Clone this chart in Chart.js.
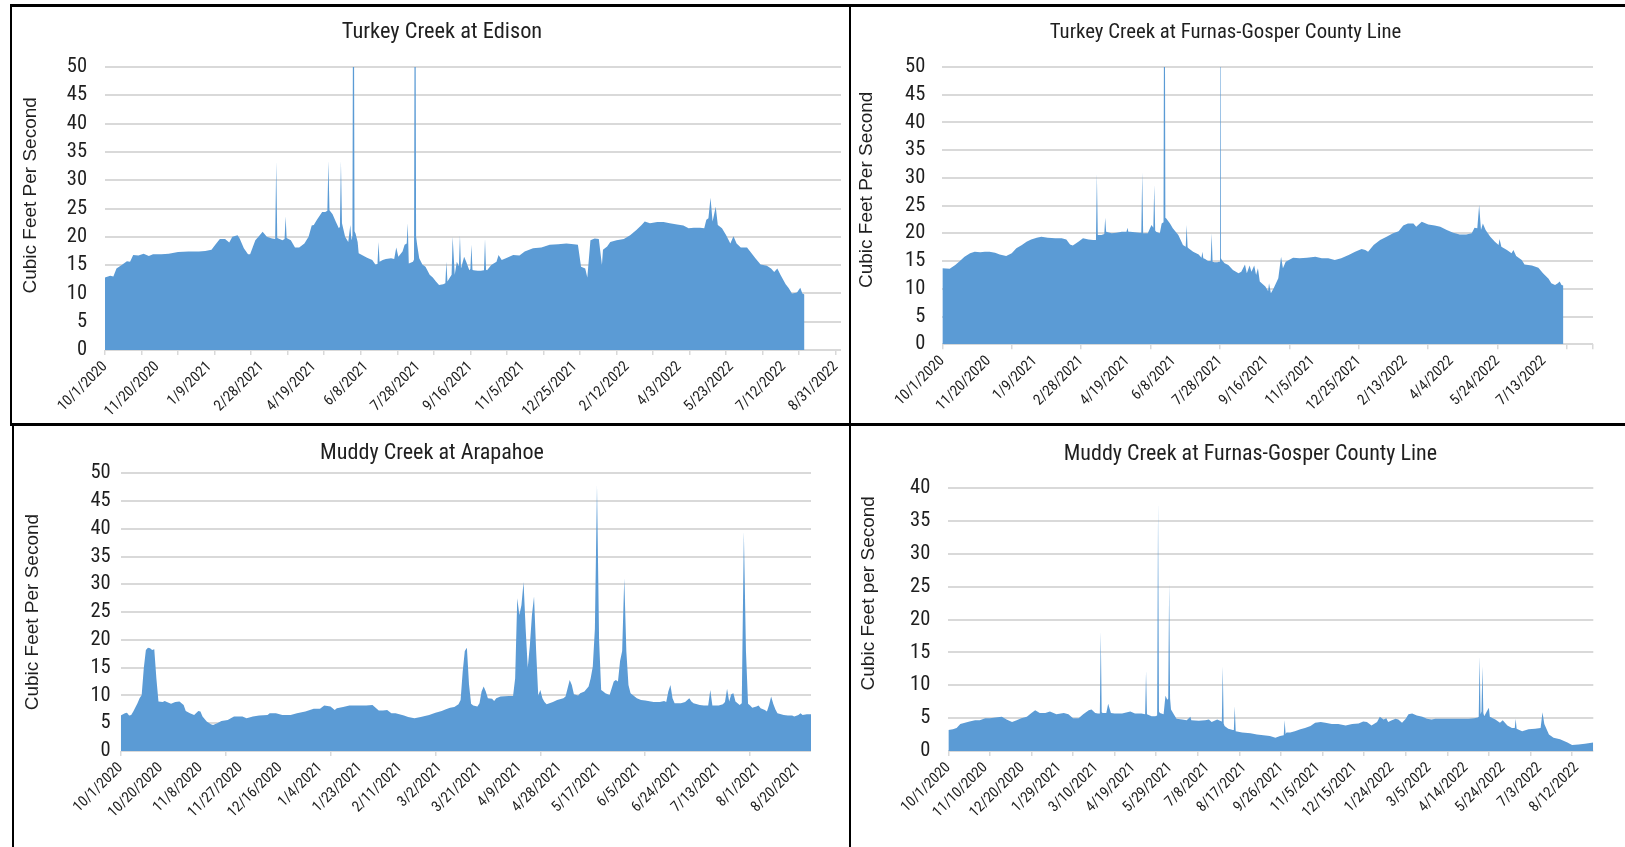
<!DOCTYPE html>
<html>
<head>
<meta charset="utf-8">
<script src="https://cdn.jsdelivr.net/npm/chart.js@4.4.1/dist/chart.umd.min.js"></script>
<style>
  html, body { margin: 0; padding: 0; background: #fff; }
  body { width: 1625px; height: 847px; position: relative; overflow: hidden; }
  canvas { position: absolute; }
  .rule { position: absolute; background: #000; z-index: 5; }
</style>
</head>
<body>
<canvas id="edison" width="840" height="419" style="left:22px;top:5px"></canvas>
<canvas id="turkeyLine" width="800" height="419" style="left:825px;top:5px"></canvas>
<canvas id="arapahoe" width="840" height="421" style="left:12px;top:426px"></canvas>
<canvas id="muddyLine" width="800" height="421" style="left:850px;top:426px"></canvas>

<div class="rule" style="left:10px;top:4px;width:1615px;height:3px"></div>
<div class="rule" style="left:10px;top:4px;width:2px;height:421px"></div>
<div class="rule" style="left:849px;top:4px;width:2px;height:843px"></div>
<div class="rule" style="left:10px;top:423px;width:1615px;height:3px"></div>
<div class="rule" style="left:12px;top:423px;width:2px;height:424px"></div>

<script>
// days counted from 10/1/2020, daily discharge in cubic feet per second
const edisonDays = [0,5,8,11,16,21,24,27,32,37,42,46,54,61,70,80,90,96,102,106,110,115,119,122,127,129,133,137,139,144,147,151,155,160,163,164,165,170,172,173,174,178,182,186,191,195,198,200,203,208,211,213,214,215,218,221,224,225,226,227,230,233,235,236,237,238,239,240,242,243,247,251,256,259,261,262,263,266,269,274,277,279,281,285,287,289,290,291,295,296,297,298,299,301,304,307,311,314,317,320,324,326,327,328,332,333,335,337,339,340,341,344,346,349,350,351,352,353,357,360,363,364,365,366,370,375,377,380,384,391,397,402,410,418,426,434,442,449,453,456,460,462,465,469,473,476,477,481,484,490,497,503,509,514,517,522,529,535,541,548,554,559,564,570,574,576,578,580,582,585,587,591,595,599,602,605,609,615,618,623,628,634,638,641,644,647,652,655,658,662,663,666,668,670];
const edisonFlow = [12.8,13.1,13.0,14.4,15.0,15.7,15.6,16.8,16.7,17.0,16.6,16.9,16.9,17.0,17.3,17.4,17.4,17.5,17.7,18.7,19.6,19.6,19.0,20.0,20.3,19.7,18.0,16.9,16.9,19.4,20.0,20.9,20.0,19.7,19.6,33.3,19.8,19.4,19.6,23.6,19.8,19.4,18.1,18.1,18.8,20.0,22.0,22.1,23.0,24.4,24.4,24.6,33.4,24.7,24.0,22.7,21.5,21.8,33.4,22.4,20.0,19.1,22.1,19.4,20.2,95,21.0,20.6,19.1,17.1,16.7,16.3,15.9,15.1,15.2,19.1,15.6,15.9,16.1,16.2,16.1,18.1,16.5,17.4,18.6,18.8,22.4,15.3,15.6,16.0,95,20.0,18.6,16.2,15.1,14.7,13.3,12.8,12.1,11.5,11.6,11.8,15.6,12.1,13.3,20.0,13.3,15.6,14.8,20.3,14.4,16.5,15.6,14.1,14.3,18.6,14.2,14.1,14.0,14.0,14.1,19.6,14.2,14.1,15.0,15.6,16.8,15.9,16.2,16.8,16.7,17.4,18.0,18.1,18.6,18.7,18.8,18.7,18.6,14.7,14.4,12.8,19.4,19.7,19.6,15.0,17.7,18.3,19.1,19.4,19.6,20.3,21.2,22.1,22.7,22.4,22.6,22.6,22.4,22.2,22.0,21.5,21.6,21.6,21.5,23.0,23.3,26.9,22.7,25.3,22.1,21.5,20.3,18.8,20.1,18.8,18.1,18.1,17.4,16.2,15.1,14.9,14.4,13.8,14.4,13.3,11.6,10.9,10.0,10.1,10.2,11.0,10.0,9.8];
const edisonLabels = ['10/1/2020','11/20/2020','1/9/2021','2/28/2021','4/19/2021','6/8/2021','7/28/2021','9/16/2021','11/5/2021','12/25/2021','2/12/2022','4/3/2022','5/23/2022','7/12/2022','8/31/2022'];

const turkeyLineDays = [0,8,14,19,24,30,35,41,46,51,57,62,69,75,80,86,91,96,102,107,114,122,129,134,138,141,147,152,158,163,166,167,168,172,175,176,177,183,188,194,199,200,201,203,208,213,215,216,217,222,226,228,229,230,231,235,237,239,240,241,242,246,249,255,260,263,264,265,266,271,277,280,281,282,284,287,290,291,292,294,297,299,300,301,302,305,309,314,320,323,327,329,332,334,337,339,341,343,349,352,353,355,358,363,366,368,371,379,386,394,403,410,417,424,431,439,446,453,457,460,466,473,480,487,493,498,503,509,512,518,525,532,538,545,552,559,566,572,575,578,580,582,584,587,592,597,601,602,604,610,615,617,620,626,629,637,644,649,655,658,662,665,667,669,671];
const turkeyLineFlow = [13.7,13.6,14.3,15.0,15.8,16.4,16.7,16.6,16.7,16.7,16.5,16.2,15.9,16.4,17.3,17.9,18.5,18.9,19.2,19.4,19.2,19.1,19.1,18.9,18.0,17.8,18.5,19.1,18.9,18.8,18.8,30.8,19.7,19.7,19.9,22.8,20.3,20.0,20.1,20.3,20.3,21.0,20.3,20.3,20.2,20.1,20.1,31.0,20.0,20.0,21.5,21.0,28.7,20.5,20.3,20.0,21.8,22.0,95,22.8,22.7,21.8,20.9,19.7,17.9,17.6,21.5,17.5,17.3,16.7,16.2,15.6,16.7,15.5,15.4,15.0,15.0,20.0,14.9,14.8,14.8,14.9,95,15.5,15.2,14.6,14.3,13.4,12.8,13.1,14.4,12.8,14.2,13.1,14.2,12.5,13.7,11.3,10.4,9.6,11.0,9.2,10.1,11.9,15.8,13.7,14.9,15.6,15.5,15.6,15.8,15.5,15.5,15.2,15.5,16.1,16.7,17.2,17.0,16.7,17.9,18.8,19.4,20.0,20.4,21.4,21.8,21.8,21.2,22.1,21.6,21.4,21.2,20.6,20.1,19.8,19.8,20.0,21.0,20.9,25.1,20.6,21.8,20.6,19.4,18.5,17.9,19.0,17.6,17.0,16.4,17.0,15.9,15.2,14.4,14.2,13.8,12.8,11.8,11.0,10.7,11.0,11.3,10.7,10.6];
const turkeyLineLabels = ['10/1/2020','11/20/2020','1/9/2021','2/28/2021','4/19/2021','6/8/2021','7/28/2021','9/16/2021','11/5/2021','12/25/2021','2/13/2022','4/4/2022','5/24/2022','7/13/2022'];

const arapahoeDays = [0,2,3,4,5,6,8,9,10,11,12,13,14,15,16,17,18,20,21,22,24,26,28,30,31,33,35,37,38,39,41,43,44,46,48,51,54,58,60,63,66,70,71,74,77,81,84,88,92,95,97,100,102,103,106,109,112,117,120,123,125,127,129,131,135,137,140,143,147,150,153,155,157,159,161,162,163,164,165,166,167,168,170,171,172,173,174,175,177,178,179,181,185,187,188,189,190,191,192,193,194,195,196,197,198,199,200,201,202,203,206,208,211,212,213,214,215,216,218,219,221,223,224,225,226,227,228,229,230,231,233,235,236,237,238,239,240,241,242,243,246,248,250,254,257,259,260,261,262,263,264,267,269,271,272,273,276,278,280,281,282,285,287,288,289,290,291,292,293,295,296,297,298,299,300,301,303,304,305,307,308,309,310,311,312,313,316,318,320,321,323,324,325,327,329];
const arapahoeFlow = [6.4,6.8,6.9,6.4,6.5,7.1,8.6,9.5,10.1,14.9,18.2,18.6,18.5,18.2,18.3,13.1,8.9,8.8,9.0,8.8,8.5,8.8,8.9,8.3,7.2,6.8,6.5,7.2,7.1,6.2,5.3,4.8,4.7,5.0,5.4,5.6,6.2,6.2,5.9,6.2,6.4,6.5,6.8,6.8,6.5,6.5,6.8,7.1,7.6,7.6,8.2,8.0,7.4,7.7,7.9,8.2,8.2,8.2,8.3,7.3,7.3,7.4,6.8,6.8,6.4,6.1,5.9,6.1,6.5,6.9,7.2,7.5,7.8,7.9,8.4,9.2,14.3,18.0,18.6,12.0,8.5,8.2,8.0,8.6,10.7,11.6,10.7,9.5,9.4,9.0,9.5,9.8,9.9,9.9,13.1,27.5,24.5,26.3,30.4,22.0,15.0,19.0,24.5,27.8,18.0,10.0,11.0,9.5,8.8,8.4,8.8,9.2,9.5,9.8,11.3,12.8,11.9,10.2,10.0,10.4,10.7,11.6,13.1,15.2,22.0,47.9,20.0,11.0,10.7,10.4,10.1,12.5,12.8,12.5,16.2,18.0,31.1,17.9,11.9,10.4,9.5,9.2,9.1,8.8,8.8,9.0,8.8,10.7,11.9,9.5,8.6,8.6,8.8,9.5,8.9,8.6,8.3,8.2,8.2,11.0,8.2,8.2,8.4,8.8,11.2,8.9,10.2,10.4,8.9,8.3,8.6,39.5,18.0,8.5,8.2,7.8,8.0,8.2,7.7,7.4,7.1,8.3,9.8,8.5,7.5,6.8,6.5,6.4,6.4,6.2,6.5,6.8,6.5,6.6,6.6];
const arapahoeLabels = ['10/1/2020','10/20/2020','11/8/2020','11/27/2020','12/16/2020','1/4/2021','1/23/2021','2/11/2021','3/2/2021','3/21/2021','4/9/2021','4/28/2021','5/17/2021','6/5/2021','6/24/2021','7/13/2021','8/1/2021','8/20/2021'];

const muddyLineDays = [0,5,9,13,18,23,29,34,40,45,51,58,63,69,74,79,85,90,94,99,105,110,117,125,130,135,141,146,152,155,159,162,164,165,166,167,171,173,176,180,188,197,202,209,213,214,215,220,224,226,227,228,229,233,235,237,238,239,240,241,244,247,253,258,262,263,271,278,282,285,291,294,296,297,298,299,303,308,309,310,311,318,327,334,341,348,354,359,363,364,365,366,370,375,381,386,392,397,403,408,415,422,430,437,444,449,453,458,464,467,471,474,476,480,484,487,491,495,498,502,507,513,518,523,527,534,545,556,563,569,573,574,575,576,577,578,579,580,583,585,586,592,597,600,605,610,613,614,615,621,628,635,641,643,645,650,655,662,670,675,682,689,698];
const muddyLineFlow = [3.2,3.3,3.5,4.1,4.3,4.5,4.7,4.7,5.0,5.0,5.1,5.2,4.8,4.4,4.7,5.0,5.2,5.8,6.2,5.8,5.8,6.0,5.6,5.8,5.6,5.0,5.0,5.6,6.2,6.3,5.8,5.7,5.7,18.2,5.9,5.8,5.8,7.2,5.8,5.7,5.7,6.0,5.7,5.7,5.6,12.2,5.6,5.3,5.3,5.4,38.0,6.0,5.8,5.6,8.4,7.8,8.0,25.6,8.0,6.3,5.6,4.9,4.8,4.7,5.2,4.7,4.6,4.7,4.8,4.4,4.8,4.6,4.5,12.9,4.2,3.8,3.4,3.2,3.2,6.8,3.0,2.8,2.7,2.5,2.4,2.3,2.0,2.3,2.4,4.7,2.6,2.8,2.8,3.0,3.3,3.5,3.8,4.3,4.4,4.3,4.1,4.1,3.9,4.1,4.2,4.5,4.4,3.9,4.4,5.2,4.8,5.0,4.4,4.7,4.9,4.8,4.3,4.9,5.6,5.7,5.4,5.2,4.9,4.8,4.9,4.9,4.9,4.9,4.9,5.0,5.1,5.2,14.4,5.6,6.0,12.9,5.8,5.3,6.1,6.6,5.2,4.8,4.3,4.7,3.9,3.5,3.5,4.9,3.4,3.0,3.3,3.4,3.5,5.9,4.1,2.5,2.0,1.8,1.3,0.9,1.0,1.1,1.3];
const muddyLineLabels = ['10/1/2020','11/10/2020','12/20/2020','1/29/2021','3/10/2021','4/19/2021','5/29/2021','7/8/2021','8/17/2021','9/26/2021','11/5/2021','12/15/2021','1/24/2022','3/5/2022','4/14/2022','5/24/2022','7/3/2022','8/12/2022'];

const areaBlue = '#5b9bd5';
const gridGrey = '#d9d9d9';
const ink = '#1f1f1f';
const narrowFont = "'Liberation Sans Narrow', 'Roboto Condensed', Roboto, sans-serif";
const plainFont = "'Liberation Sans', Arial, sans-serif";

function drawPanel(id, o) {
  const points = o.days.map((d, i) => ({ x: d, y: o.flow[i] }));
  // leading spaces nudge the centred axis title upward, as in the source sheet
  const yTitleText = ' '.repeat(o.yTitleLift) + o.yTitle;
  const showTick = v => v % o.tickEvery === 0 || (o.endTick && v === o.xMax);
  return new Chart(document.getElementById(id), {
    type: 'line',
    data: {
      datasets: [{
        data: points,
        fill: 'origin',
        backgroundColor: areaBlue,
        borderColor: areaBlue,
        borderWidth: 0,
        pointRadius: 0,
        tension: 0
      }]
    },
    options: {
      responsive: false,
      animation: false,
      layout: { padding: { left: o.padLeft, right: o.padRight, top: 0, bottom: 0 } },
      plugins: {
        legend: { display: false },
        tooltip: { enabled: false },
        title: {
          display: true,
          text: o.title,
          color: ink,
          font: { family: narrowFont, size: o.titleSize, weight: 'normal', lineHeight: 1.2 },
          padding: { top: o.titleTop, bottom: o.titleBottom }
        }
      },
      scales: {
        x: {
          type: 'linear',
          min: 0,
          max: o.xMax,
          afterFit: s => { s.height = o.xHeight; },
          border: { display: false },
          grid: {
            drawOnChartArea: false,
            tickLength: 5,
            lineWidth: 1.5,
            color: c => (c.tick && showTick(c.tick.value)) ? gridGrey : 'rgba(0,0,0,0)'
          },
          ticks: {
            stepSize: 1,
            autoSkip: false,
            minRotation: 45,
            maxRotation: 45,
            padding: 3,
            color: ink,
            font: { family: narrowFont, size: 15 },
            callback: v => (v % o.labelEvery === 0 && o.labels[v / o.labelEvery]) || ''
          }
        },
        y: {
          min: 0,
          max: o.yMax,
          afterFit: s => { s.width = o.yWidth; },
          border: { display: false },
          grid: { drawTicks: false, color: gridGrey, lineWidth: 2 },
          ticks: { stepSize: 5, padding: o.yPad, color: ink, font: { family: narrowFont, size: 20.5 } },
          title: {
            display: true,
            text: yTitleText,
            color: ink,
            font: { family: plainFont, size: 19, lineHeight: 1 },
            padding: { top: o.yTitlePad, bottom: 0 }
          }
        }
      }
    }
  });
}

drawPanel('edison', {
  days: edisonDays, flow: edisonFlow, labels: edisonLabels,
  title: 'Turkey Creek at Edison', yTitle: 'Cubic Feet Per Second', yTitleLift: 5,
  labelEvery: 50, tickEvery: 35, xMax: 705, yMax: 50, endTick: false,
  padLeft: 21, padRight: 21, yWidth: 62, xHeight: 74,
  titleSize: 22.4, titleTop: 14.1, titleBottom: 21.1, yPad: 18, yTitlePad: -21.5
});
drawPanel('turkeyLine', {
  days: turkeyLineDays, flow: turkeyLineFlow, labels: turkeyLineLabels,
  title: 'Turkey Creek at Furnas-Gosper County Line', yTitle: 'Cubic Feet Per Second', yTitleLift: 6,
  labelEvery: 50, tickEvery: 75, xMax: 703, yMax: 50, endTick: true,
  padLeft: 33, padRight: 32, yWidth: 84.3, xHeight: 79.7,
  titleSize: 20.8, titleTop: 15.0, titleBottom: 22.0, yPad: 17, yTitlePad: -1
});
drawPanel('arapahoe', {
  days: arapahoeDays, flow: arapahoeFlow, labels: arapahoeLabels,
  title: 'Muddy Creek at Arapahoe', yTitle: 'Cubic Feet Per Second', yTitleLift: 0,
  labelEvery: 19, tickEvery: 50, xMax: 329, yMax: 50, endTick: false,
  padLeft: 41, padRight: 41, yWidth: 67.7, xHeight: 96,
  titleSize: 22.1, titleTop: 14.2, titleBottom: 6.5, yPad: 10, yTitlePad: -29.5
});
drawPanel('muddyLine', {
  days: muddyLineDays, flow: muddyLineFlow, labels: muddyLineLabels,
  title: 'Muddy Creek at Furnas-Gosper County Line', yTitle: 'Cubic Feet per Second', yTitleLift: 10,
  labelEvery: 40, tickEvery: 45, xMax: 698, yMax: 40, endTick: false,
  padLeft: 57.5, padRight: 56.7, yWidth: 40.8, xHeight: 96,
  titleSize: 22.0, titleTop: 15.3, titleBottom: 20.6, yPad: 18, yTitlePad: -48.5
});
</script>
</body>
</html>
